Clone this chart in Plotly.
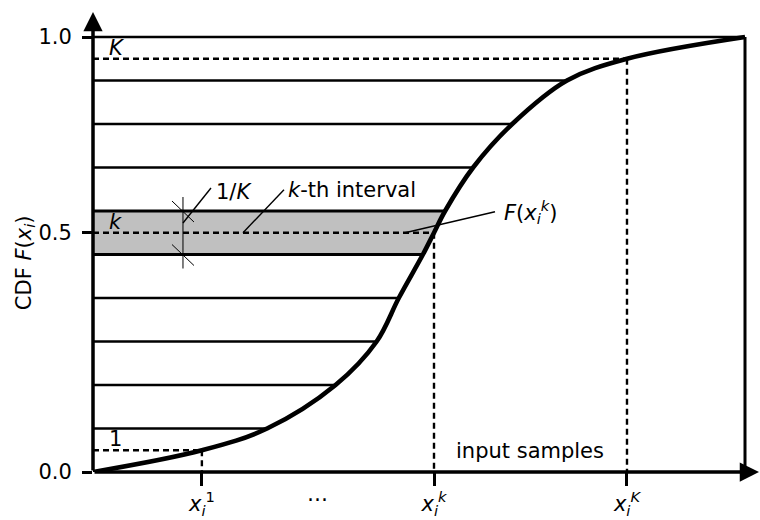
import plotly.graph_objects as go

# ---------------- data ----------------
# CDF curve: normalized input-sample position vs cumulative probability level
cdf_x = [0.000, 0.167, 0.267, 0.372, 0.435, 0.469, 0.506, 0.523, 0.540, 0.583, 0.643, 0.727, 0.819, 1.000]
cdf_y = [0.00, 0.05, 0.10, 0.20, 0.30, 0.40, 0.50, 0.55, 0.60, 0.70, 0.80, 0.90, 0.95, 1.00]

# K = 10 equal-probability interval boundaries
interval_edges = [0.1, 0.2, 0.3, 0.4, 0.5, 0.6, 0.7, 0.8, 0.9]
k_interval = [0.5, 0.6]

# sampled interval midpoints
sample_levels = [0.05, 0.55, 0.95]
sample_names = ["1", "<i>k</i>", "<i>K</i>"]
sample_ticks = ["<i>x</i><sub><i>i</i></sub><sup>1</sup>",
                "<i>x</i><sub><i>i</i></sub><sup><i>k</i></sup>",
                "<i>x</i><sub><i>i</i></sub><sup><i>K</i></sup>"]

y_tick_vals = [0.0, 0.55, 1.0]
y_tick_text = ["0.0", "0.5", "1.0"]

# ---------------- layout geometry ----------------
W, H = 760, 520
ML, MR, MT, MB = 93, 0, 8, 48
SX = 652.0   # pixels per x unit
SY = 435.0   # pixels per y unit
PW, PH = W - ML - MR, H - MT - MB
XR = [0, PW / SX]
YR = [0, PH / SY]
px = 1 / SX
py = 1 / SY

FONT = "DejaVu Sans"
FS = 21


def x_at(level):
    return cdf_x[cdf_y.index(level)]


fig = go.Figure()

# shaded k-th interval
lo, hi = k_interval
band_x = [0, x_at(lo), x_at(0.55), x_at(hi), 0]
band_y = [lo, lo, 0.55, hi, hi]
fig.add_trace(go.Scatter(x=band_x, y=band_y, fill="toself", fillcolor="rgb(192,192,192)",
                         line=dict(width=0), mode="lines", hoverinfo="skip", showlegend=False))

shapes = []
# interval boundaries
for lv in interval_edges:
    w = 3.2 if lv in k_interval else 2.4
    shapes.append(dict(type="line", xref="x", yref="y", x0=0, x1=x_at(lv), y0=lv, y1=lv,
                       line=dict(color="black", width=w)))
# top line at 1.0 and right border
shapes.append(dict(type="line", xref="x", yref="y", x0=0, x1=x_at(1.0), y0=1.0, y1=1.0,
                   line=dict(color="black", width=2.6)))
shapes.append(dict(type="line", xref="x", yref="y", x0=x_at(1.0), x1=x_at(1.0), y0=0, y1=1.0,
                   line=dict(color="black", width=3)))
# dashed sample lines
for lv in sample_levels:
    xs = x_at(lv)
    shapes.append(dict(type="line", xref="x", yref="y", x0=0, x1=xs, y0=lv, y1=lv,
                       line=dict(color="black", width=2.4, dash="6px,4px")))
    shapes.append(dict(type="line", xref="x", yref="y", x0=xs, x1=xs, y0=lv, y1=0,
                       line=dict(color="black", width=2.4, dash="6px,4px")))

# 1/K dimension marker
xd = 0.138
shapes.append(dict(type="line", xref="x", yref="y", x0=xd, x1=xd, y0=hi + 14 * py, y1=lo - 14 * py,
                   line=dict(color="black", width=1)))
for e in k_interval:
    shapes.append(dict(type="line", xref="x", yref="y", x0=xd - 11 * px, x1=xd + 11 * px,
                       y0=e + 10 * py, y1=e - 11 * py, line=dict(color="black", width=1)))
# leader lines
kx = x_at(0.55)
leaders = [
    (xd, hi - 12 * py, xd + 28 * px, hi + 23 * py),
    (xd + 60 * px, 0.55, xd + 101 * px, 0.55 + 43 * py),
    (kx - 29 * px, 0.55, kx + 61 * px, 0.55 + 21 * py),
]
for x0, y0, x1, y1 in leaders:
    shapes.append(dict(type="line", xref="x", yref="y", x0=x0, x1=x1, y0=y0, y1=y1,
                       line=dict(color="black", width=1.4)))

# CDF curve
fig.add_trace(go.Scatter(x=cdf_x, y=cdf_y, mode="lines",
                         line=dict(color="black", width=4.6, shape="spline", smoothing=1.0),
                         cliponaxis=False, hoverinfo="skip", showlegend=False))

annotations = []
# axis arrows
annotations.append(dict(x=0, y=YR[1] - 4 * py, ax=0, ay=0, axref="x", ayref="y", xref="x", yref="y",
                        text="", showarrow=True, arrowhead=2, arrowwidth=3.5, arrowsize=1.1, arrowcolor="black"))
annotations.append(dict(x=XR[1] - 1 * px, y=0, ax=0, ay=0, axref="x", ayref="y", xref="x", yref="y",
                        text="", showarrow=True, arrowhead=2, arrowwidth=3.5, arrowsize=1.1, arrowcolor="black"))
# interval labels
for lv, nm in zip(sample_levels, sample_names):
    annotations.append(dict(x=0, y=lv, xref="x", yref="y", text=nm, showarrow=False,
                            xanchor="left", yanchor="middle", xshift=14, yshift=11,
                            font=dict(family=FONT, size=FS, color="black")))
annotations += [
    dict(x=xd + 31 * px, y=hi + 19 * py, xref="x", yref="y", text="1/<i>K</i>", showarrow=False,
         xanchor="left", yanchor="middle", font=dict(family=FONT, size=FS, color="black")),
    dict(x=xd + 103 * px, y=hi + 21 * py, xref="x", yref="y", text="<i>k</i>-th interval", showarrow=False,
         xanchor="left", yanchor="middle", font=dict(family=FONT, size=FS, color="black")),
    dict(x=kx + 68 * px, y=0.55 + 21 * py, xref="x", yref="y",
         text="<i>F</i>(<i>x</i><sub><i>i</i></sub><sup><i>k</i></sup>)", showarrow=False,
         xanchor="left", yanchor="middle", font=dict(family=FONT, size=FS, color="black")),
    dict(x=(x_at(0.55) + x_at(0.95)) / 2, y=0, xref="x", yref="y", text="input samples", showarrow=False,
         xanchor="center", yanchor="middle", yshift=21, font=dict(family=FONT, size=FS, color="black")),
    dict(x=0.345, y=0, xref="x", yref="y", text="…", showarrow=False,
         xanchor="center", yanchor="middle", yshift=-22, font=dict(family=FONT, size=FS, color="black")),
    dict(x=0, y=0.48, xref="x", yref="y", text="CDF <i>F</i>(<i>x</i><sub><i>i</i></sub>)", showarrow=False,
         textangle=-90, xanchor="center", yanchor="middle", xshift=-68,
         font=dict(family=FONT, size=FS, color="black")),
]

fig.update_layout(
    width=W, height=H, margin=dict(l=ML, r=MR, t=MT, b=MB),
    plot_bgcolor="white", paper_bgcolor="white",
    shapes=shapes, annotations=annotations, showlegend=False,
    xaxis=dict(range=XR, showgrid=False, zeroline=False, showline=False,
               tickvals=[x_at(lv) for lv in sample_levels], ticktext=sample_ticks,
               ticks="outside", ticklen=13, tickwidth=3, tickcolor="black",
               tickfont=dict(family=FONT, size=FS, color="black"), fixedrange=True),
    yaxis=dict(range=YR, showgrid=False, zeroline=False, showline=False,
               tickvals=y_tick_vals, ticktext=y_tick_text,
               ticks="outside", ticklen=10, tickwidth=3, tickcolor="black",
               ticklabelstandoff=6,
               tickfont=dict(family=FONT, size=FS, color="black"), fixedrange=True),
)

fig.write_html("out.html")
